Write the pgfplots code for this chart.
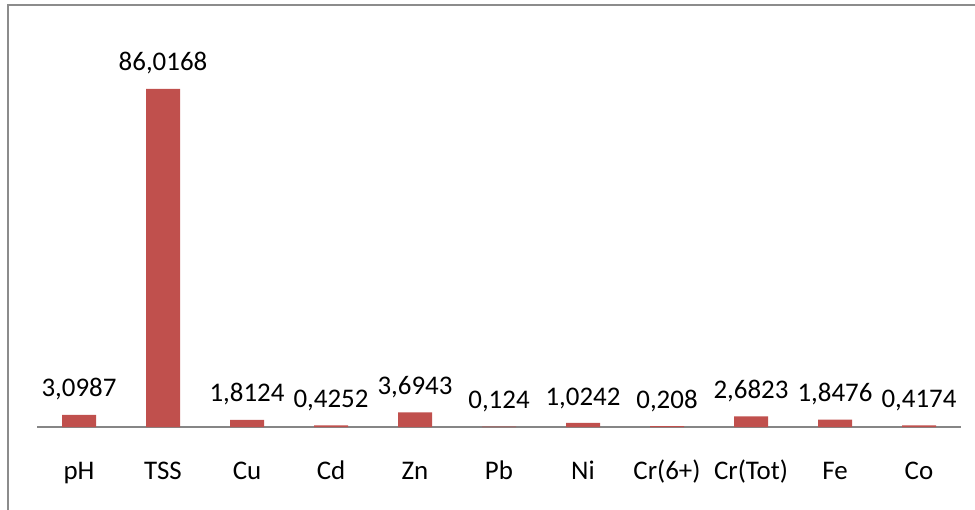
\documentclass[border=0pt]{standalone}
\usepackage{fontspec}
\setmainfont{Carlito}
\usepackage{pgfplots}
\pgfplotsset{compat=1.18}
\definecolor{barred}{HTML}{C0504D}
\definecolor{axgray}{HTML}{868686}
\definecolor{framegray}{HTML}{8C8C8C}
\begin{document}
\begin{tikzpicture}
\useasboundingbox (0,0) rectangle (975bp,510bp);
\draw[framegray, line width=2bp] (8bp,-20bp) -- (8bp,505bp) -- (1000bp,505bp);
\begin{axis}[
  at={(37bp,83bp)}, anchor=south west,
  scale only axis, width=924bp, height=393bp,
  xmin=-0.5, xmax=10.5, ymin=0, ymax=100,
  hide y axis,
  axis x line*=bottom,
  x axis line style={axgray, line width=1.2bp, -},
  xtick=data,
  xticklabels={pH,TSS,Cu,Cd,Zn,Pb,Ni,Cr(6+),Cr(Tot),Fe,Co},
  major tick length=0pt,
  xticklabel style={font=\fontsize{27}{32}\selectfont, anchor=base, yshift=-52bp},
  ybar, bar width=34bp,
  point meta=explicit symbolic,
  nodes near coords,
  nodes near coords style={font=\fontsize{27}{32}\selectfont, anchor=south, yshift=11bp},
  clip=false,
]
\addplot[fill=barred, draw=none] coordinates {
  (0,3.0987) [3,0987]
  (1,86.0168) [86,0168]
  (2,1.8124) [1,8124]
  (3,0.4252) [0,4252]
  (4,3.6943) [3,6943]
  (5,0.124) [0,124]
  (6,1.0242) [1,0242]
  (7,0.208) [0,208]
  (8,2.6823) [2,6823]
  (9,1.8476) [1,8476]
  (10,0.4174) [0,4174]
};
\end{axis}
\end{tikzpicture}
\end{document}
